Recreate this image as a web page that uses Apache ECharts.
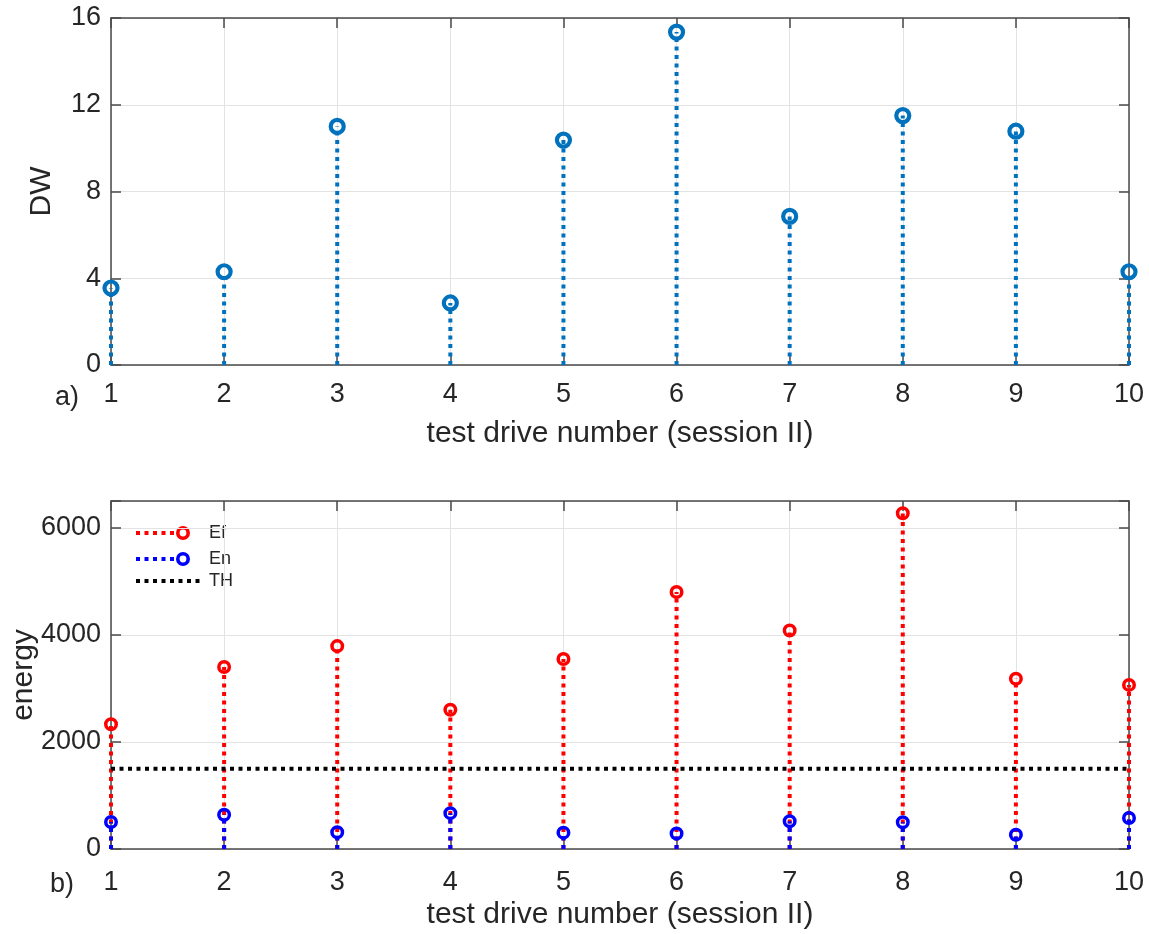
<!DOCTYPE html>
<html>
<head>
<meta charset="utf-8">
<title>Test drive DW and energy</title>
<script src="https://cdn.jsdelivr.net/npm/echarts@6/dist/echarts.min.js"></script>
<style>
  html, body { margin: 0; padding: 0; background: #fff; }
  #chart { width: 1149px; height: 934px; }
</style>
</head>
<body>
<div id="chart"></div>
<script>
// Test drive numbers (session II)
const drives = [1, 2, 3, 4, 5, 6, 7, 8, 9, 10];
// Panel a): DW per drive
const dw = [3.55, 4.3, 11.0, 2.86, 10.37, 15.35, 6.85, 11.5, 10.78, 4.3];
// Panel b): energies per drive
const ef = [2330, 3400, 3790, 2600, 3550, 4800, 4080, 6270, 3180, 3065];
const en = [505, 640, 312, 670, 305, 290, 517, 500, 265, 580];
// Threshold level
const th = 1500;
// Axis ticks
const dwTicks = [0, 4, 8, 12, 16];
const energyTicks = [0, 2000, 4000, 6000];
const energyMax = 6500;

const FONT = '"Liberation Sans", Arial, Helvetica, sans-serif';
const AXIS_COLOR = '#4a4a4a';
const TEXT_COLOR = '#262626';
const GRID_COLOR = '#e3e3e3';
const C_DW = '#0072BD';
const C_EF = '#FF0000';
const C_EN = '#0000FF';
const DASH = [4, 4.5];
const STEM_W = 4;

const pairs = (ys) => drives.map((d, i) => [d, ys[i]]);

function stemSeries(xi, yi, ys, color) {
  return {
    type: 'custom',
    xAxisIndex: xi,
    yAxisIndex: yi,
    clip: false,
    encode: { x: 0, y: 1 },
    data: pairs(ys),
    renderItem: function (params, api) {
      const x = api.value(0);
      const v = api.value(1);
      const p0 = api.coord([x, 0]);
      const p1 = api.coord([x, v]);
      return {
        type: 'line',
        shape: { x1: p0[0], y1: p0[1], x2: p1[0], y2: p1[1] },
        style: { stroke: color, lineWidth: STEM_W, lineDash: DASH, fill: null }
      };
    },
    z: 2
  };
}

function markerSeries(xi, yi, ys, color, size, border) {
  return {
    type: 'scatter',
    xAxisIndex: xi,
    yAxisIndex: yi,
    clip: false,
    symbol: 'circle',
    symbolSize: size,
    data: pairs(ys),
    itemStyle: { color: 'rgba(255,255,255,0)', borderColor: color, borderWidth: border, opacity: 1 },
    emphasis: { disabled: true },
    z: 3
  };
}

function mainX(gridIndex, labelMargin, nameGap) {
  return {
    type: 'value', gridIndex: gridIndex, position: 'bottom',
    min: 1, max: 10, interval: 1,
    name: 'test drive number (session II)',
    nameLocation: 'middle', nameGap: nameGap, nameMoveOverlap: false,
    nameTextStyle: { fontFamily: FONT, fontSize: 30, color: TEXT_COLOR },
    axisLine: { show: true, onZero: false, lineStyle: { color: AXIS_COLOR, width: 1.5 } },
    axisTick: { show: true, inside: true, length: 10, lineStyle: { color: AXIS_COLOR, width: 1.5 } },
    axisLabel: { fontFamily: FONT, fontSize: 27, color: TEXT_COLOR, margin: labelMargin },
    splitLine: { show: true, lineStyle: { color: GRID_COLOR, width: 1 } }
  };
}

function boxX(gridIndex) {
  return {
    type: 'value', gridIndex: gridIndex, position: 'top',
    min: 1, max: 10, interval: 1,
    axisLine: { show: true, onZero: false, lineStyle: { color: AXIS_COLOR, width: 1.5 } },
    axisTick: { show: true, inside: true, length: 10, lineStyle: { color: AXIS_COLOR, width: 1.5 } },
    axisLabel: { show: false },
    splitLine: { show: false }
  };
}

function mainY(gridIndex, name, ticks, max, nameGap) {
  return {
    type: 'value', gridIndex: gridIndex, position: 'left',
    min: ticks[0], max: max, interval: ticks[1] - ticks[0],
    name: name, nameLocation: 'middle', nameGap: nameGap, nameMoveOverlap: false,
    nameTextStyle: { fontFamily: FONT, fontSize: 30, color: TEXT_COLOR },
    axisLine: { show: true, onZero: false, lineStyle: { color: AXIS_COLOR, width: 1.5 } },
    axisTick: { show: true, inside: true, length: 10, lineStyle: { color: AXIS_COLOR, width: 1.5 } },
    axisLabel: {
      fontFamily: FONT, fontSize: 27, color: TEXT_COLOR, margin: 10,
      hideOverlap: false,
      formatter: (v) => (ticks.indexOf(v) >= 0 ? String(v) : '')
    },
    splitLine: { show: true, lineStyle: { color: GRID_COLOR, width: 1 } }
  };
}

function boxY(gridIndex, ticks, max) {
  return {
    type: 'value', gridIndex: gridIndex, position: 'right',
    min: ticks[0], max: max, interval: ticks[1] - ticks[0],
    axisLine: { show: true, onZero: false, lineStyle: { color: AXIS_COLOR, width: 1.5 } },
    axisTick: { show: true, inside: true, length: 10, lineStyle: { color: AXIS_COLOR, width: 1.5 } },
    axisLabel: { show: false },
    splitLine: { show: false }
  };
}

// Legend for panel b), drawn as small glyph rows
function legendRow(y, color, withMarker, label) {
  const els = [];
  els.push({
    type: 'line',
    shape: { x1: 136, y1: y, x2: withMarker ? 178 : 200, y2: y },
    style: { stroke: color, lineWidth: STEM_W, lineDash: DASH }
  });
  if (withMarker) {
    els.push({
      type: 'circle',
      shape: { cx: 183, cy: y, r: 5.2 },
      style: { stroke: color, lineWidth: 3.6, fill: 'rgba(255,255,255,0)' }
    });
  }
  els.push({
    type: 'text',
    style: { x: 209, y: y, text: label, font: '18px ' + FONT, fill: TEXT_COLOR, textVerticalAlign: 'middle' }
  });
  return els;
}

const chart = echarts.init(document.getElementById('chart'), null, { renderer: 'canvas' });

const option = {
  animation: false,
  backgroundColor: '#ffffff',
  grid: [
    { left: 111, top: 18, width: 1018, height: 347, containLabel: false, outerBoundsMode: 'none' },
    { left: 111, top: 501, width: 1018, height: 348, containLabel: false, outerBoundsMode: 'none' }
  ],
  xAxis: [mainX(0, 16, 54), boxX(0), mainX(1, 20, 51), boxX(1)],
  yAxis: [
    mainY(0, 'DW', dwTicks, dwTicks[dwTicks.length - 1], 54),
    boxY(0, dwTicks, dwTicks[dwTicks.length - 1]),
    mainY(1, 'energy', energyTicks, energyMax, 72),
    boxY(1, energyTicks, energyMax)
  ],
  series: [
    stemSeries(0, 0, dw, C_DW),
    markerSeries(0, 0, dw, C_DW, 13, 4.2),
    stemSeries(2, 2, ef, C_EF),
    markerSeries(2, 2, ef, C_EF, 10.5, 3.5),
    stemSeries(2, 2, en, C_EN),
    markerSeries(2, 2, en, C_EN, 10.5, 3.5),
    {
      type: 'line',
      xAxisIndex: 2, yAxisIndex: 2,
      data: [[drives[0], th], [drives[drives.length - 1], th]],
      showSymbol: false, symbol: 'none',
      lineStyle: { color: '#000000', width: STEM_W, type: DASH },
      z: 2
    }
  ],
  graphic: [
    { type: 'text', left: 55, top: 384, style: { text: 'a)', font: '27px ' + FONT, fill: TEXT_COLOR } },
    { type: 'text', left: 50, top: 871, style: { text: 'b)', font: '27px ' + FONT, fill: TEXT_COLOR } },
    { type: 'group', children: []
      .concat(legendRow(533, C_EF, true, 'Ef'))
      .concat(legendRow(559, C_EN, true, 'En'))
      .concat(legendRow(581, '#000000', false, 'TH')) }
  ]
};

chart.setOption(option);
</script>
</body>
</html>
